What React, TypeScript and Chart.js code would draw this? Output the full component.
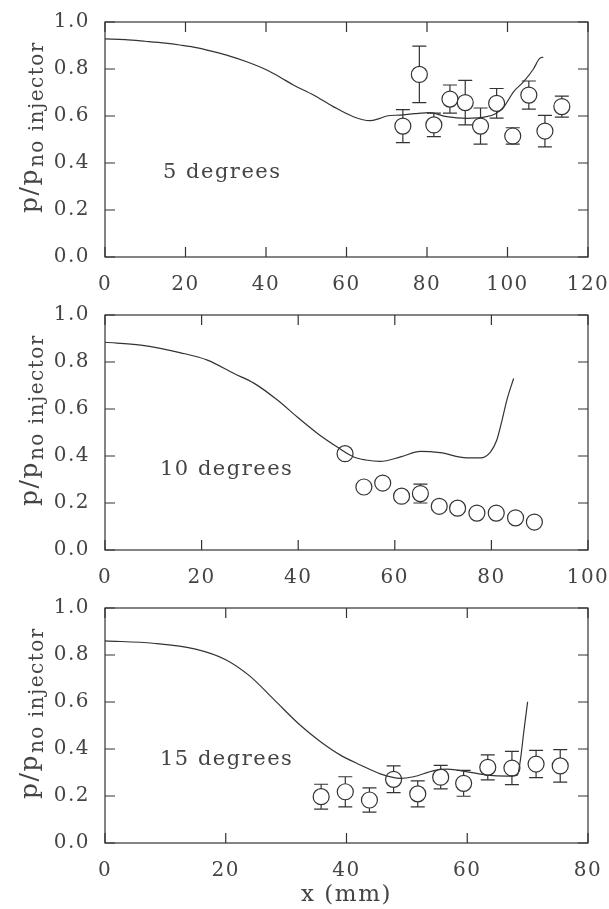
import React, { useEffect, useRef } from 'react';
import { Chart, registerables } from 'chart.js';

Chart.register(...registerables);

const FONT_FAMILY = '"DejaVu Serif", "Liberation Serif", serif';
const INK = '#333333';
const TEXT = '#444444';

const yAxisTitleMain = 'p/p';
const yAxisTitleSub = 'no injector';
const xAxisTitle = 'x (mm)';
const xStep = 20;
const yStep = 0.2;

// Panel 1: 5 degrees
const p1Label = '5 degrees';
const p1XMax = 120;
const p1CurveX = [0, 5, 10, 15, 18.6, 23, 26.9, 31, 35.2, 40.2, 43.5, 46.8, 51.8, 56.7, 61.7, 65.8, 68.3, 70, 73.3, 77, 80.7, 84.9, 89.9, 94.8, 97, 99, 101.5, 104, 106.4, 108, 108.9];
const p1CurveY = [0.928, 0.925, 0.918, 0.91, 0.902, 0.89, 0.874, 0.855, 0.831, 0.796, 0.765, 0.732, 0.689, 0.64, 0.597, 0.58, 0.59, 0.6, 0.604, 0.61, 0.614, 0.597, 0.59, 0.597, 0.61, 0.637, 0.703, 0.746, 0.799, 0.845, 0.85];
const p1DataX = [74.0, 78.1, 81.7, 85.7, 89.5, 93.3, 97.3, 101.3, 105.3, 109.3, 113.5];
const p1DataY = [0.557, 0.777, 0.562, 0.672, 0.657, 0.557, 0.654, 0.515, 0.689, 0.536, 0.64];
const p1DataErr = [0.07, 0.12, 0.05, 0.06, 0.095, 0.077, 0.063, 0.035, 0.06, 0.067, 0.045];

// Panel 2: 10 degrees
const p2Label = '10 degrees';
const p2XMax = 100;
const p2CurveX = [0, 7.4, 15.7, 21.2, 26.7, 30.9, 35.7, 39.8, 44, 48.1, 51.5, 54, 57, 61.2, 65.3, 69.4, 74.9, 77.7, 79.8, 81.1, 82.2, 83.2, 84.6];
const p2CurveY = [0.884, 0.872, 0.839, 0.808, 0.751, 0.709, 0.638, 0.566, 0.496, 0.438, 0.396, 0.383, 0.377, 0.396, 0.42, 0.414, 0.392, 0.392, 0.417, 0.467, 0.552, 0.638, 0.73];
const p2DataX = [49.7, 53.6, 57.5, 61.4, 65.3, 69.2, 73.0, 77.0, 81.0, 85.0, 88.9];
const p2DataY = [0.41, 0.268, 0.285, 0.229, 0.24, 0.186, 0.178, 0.157, 0.157, 0.137, 0.119];
const p2DataErr = [0, 0, 0, 0, 0.04, 0, 0, 0, 0, 0, 0];

// Panel 3: 15 degrees
const p3Label = '15 degrees';
const p3XMax = 80;
const p3CurveX = [0, 8, 15, 20, 24, 28, 32.3, 35.7, 39, 42.3, 45.6, 48.9, 51.1, 54.5, 56.7, 60, 63.3, 66.6, 68.3, 68.8, 69.4, 70];
const p3CurveY = [0.86, 0.85, 0.825, 0.78, 0.71, 0.61, 0.502, 0.431, 0.374, 0.332, 0.294, 0.275, 0.282, 0.308, 0.314, 0.303, 0.289, 0.285, 0.289, 0.353, 0.481, 0.601];
const p3DataX = [35.8, 39.8, 43.8, 47.8, 51.8, 55.6, 59.4, 63.4, 67.4, 71.4, 75.4];
const p3DataY = [0.197, 0.218, 0.183, 0.271, 0.209, 0.28, 0.254, 0.322, 0.319, 0.336, 0.328];
const p3DataErr = [0.053, 0.064, 0.052, 0.057, 0.055, 0.05, 0.055, 0.053, 0.071, 0.058, 0.069];

type Panel = {
  label: string; xMax: number; cx: number[]; cy: number[];
  dx: number[]; dy: number[]; de: number[];
  top: number; height: number; labelX: number; labelY: number; showTitle: boolean;
};

const panels: Panel[] = [
  { label: p1Label, xMax: p1XMax, cx: p1CurveX, cy: p1CurveY, dx: p1DataX, dy: p1DataY, de: p1DataErr, top: 0, height: 293, labelX: 163, labelY: 173, showTitle: false },
  { label: p2Label, xMax: p2XMax, cx: p2CurveX, cy: p2CurveY, dx: p2DataX, dy: p2DataY, de: p2DataErr, top: 293, height: 293, labelX: 160, labelY: 177, showTitle: false },
  { label: p3Label, xMax: p3XMax, cx: p3CurveX, cy: p3CurveY, dx: p3DataX, dy: p3DataY, de: p3DataErr, top: 586, height: 323, labelX: 160, labelY: 174, showTitle: true },
];

const PLOT_LEFT = 105;
const PLOT_TOP = 22;
const PLOT_BOTTOM = 257;
const PLOT_RIGHT_PAD = 21;
const TICK_LEN = 10;
const POINT_R = 8;
const CAP = 7;

function ChartPanel({ p }: { p: Panel }) {
  const ref = useRef<HTMLCanvasElement | null>(null);
  useEffect(() => {
    if (!ref.current) return;
    const decor = {
      id: 'decor',
      beforeDraw(chart: any) {
        chart.ctx.letterSpacing = '1.5px';
      },
      afterDatasetsDraw(chart: any) {
        const { ctx, scales } = chart;
        const xs = scales.x, ys = scales.y;
        ctx.save();
        ctx.strokeStyle = INK;
        ctx.lineWidth = 1.2;
        p.dx.forEach((xv, i) => {
          const e = p.de[i];
          if (!e) return;
          const px = xs.getPixelForValue(xv);
          const cy = ys.getPixelForValue(p.dy[i]);
          const t = ys.getPixelForValue(p.dy[i] + e);
          const b = ys.getPixelForValue(p.dy[i] - e);
          ctx.beginPath();
          if (t < cy - POINT_R) { ctx.moveTo(px, cy - POINT_R); ctx.lineTo(px, t); }
          if (b > cy + POINT_R) { ctx.moveTo(px, cy + POINT_R); ctx.lineTo(px, b); }
          ctx.moveTo(px - CAP, t); ctx.lineTo(px + CAP, t);
          ctx.moveTo(px - CAP, b); ctx.lineTo(px + CAP, b);
          ctx.stroke();
        });
        ctx.restore();
      },
      afterDraw(chart: any) {
        const { ctx, chartArea: a, scales } = chart;
        const xs = scales.x, ys = scales.y;
        ctx.save();
        ctx.strokeStyle = INK;
        ctx.lineWidth = 1.2;
        ctx.strokeRect(a.left, a.top, a.right - a.left, a.bottom - a.top);
        ctx.beginPath();
        xs.ticks.forEach((t: any) => {
          const px = xs.getPixelForValue(t.value);
          ctx.moveTo(px, a.bottom); ctx.lineTo(px, a.bottom - TICK_LEN);
          ctx.moveTo(px, a.top); ctx.lineTo(px, a.top + TICK_LEN);
        });
        ys.ticks.forEach((t: any) => {
          const py = ys.getPixelForValue(t.value);
          ctx.moveTo(a.left, py); ctx.lineTo(a.left + TICK_LEN, py);
          ctx.moveTo(a.right, py); ctx.lineTo(a.right - TICK_LEN, py);
        });
        ctx.stroke();

        ctx.fillStyle = TEXT;
        ctx.font = `21px ${FONT_FAMILY}`;
        ctx.textAlign = 'left';
        ctx.textBaseline = 'middle';
        ctx.fillText(p.label, p.labelX, p.labelY);

        ctx.translate(37, a.top + 191);
        ctx.rotate(-Math.PI / 2);
        ctx.textBaseline = 'alphabetic';
        ctx.font = `25px ${FONT_FAMILY}`;
        ctx.fillText(yAxisTitleMain, 0, 0);
        const w = ctx.measureText(yAxisTitleMain).width;
        ctx.font = `20px ${FONT_FAMILY}`;
        ctx.fillText(yAxisTitleSub, w + 1, 6);
        ctx.restore();
      },
    };
    const H = p.height;
    const chart = new Chart(ref.current, {
      type: 'scatter',
      data: {
        datasets: [
          {
            type: 'line',
            data: p.cx.map((x, i) => ({ x, y: p.cy[i] })),
            borderColor: INK,
            borderWidth: 1.2,
            pointRadius: 0,
            fill: false,
            cubicInterpolationMode: 'monotone',
          } as any,
          {
            type: 'scatter',
            data: p.dx.map((x, i) => ({ x, y: p.dy[i] })),
            pointRadius: POINT_R,
            pointHoverRadius: POINT_R,
            borderColor: INK,
            borderWidth: 1.2,
            backgroundColor: 'rgba(0,0,0,0)',
          } as any,
        ],
      },
      options: {
        responsive: false,
        animation: false,
        devicePixelRatio: 1,
        events: [],
        layout: { padding: { top: PLOT_TOP, right: PLOT_RIGHT_PAD, left: 0, bottom: 0 } },
        plugins: { legend: { display: false }, tooltip: { enabled: false } },
        scales: {
          x: {
            type: 'linear',
            min: 0,
            max: p.xMax,
            grid: { display: false, drawTicks: false },
            border: { display: false },
            ticks: {
              stepSize: xStep,
              color: TEXT,
              font: { family: FONT_FAMILY, size: 20 },
              padding: 16,
              maxRotation: 0,
              autoSkip: false,
            },
            title: {
              display: p.showTitle,
              text: xAxisTitle,
              color: TEXT,
              font: { family: FONT_FAMILY, size: 23 },
              padding: { top: 0, bottom: 0 },
            },
            afterFit: (s: any) => {
              s.height = H - PLOT_BOTTOM;
              s.paddingLeft = 0;
              s.paddingRight = 0;
            },
          },
          y: {
            type: 'linear',
            min: 0,
            max: 1,
            grid: { display: false, drawTicks: false },
            border: { display: false },
            ticks: {
              stepSize: yStep,
              color: TEXT,
              font: { family: FONT_FAMILY, size: 20 },
              padding: 15,
              callback: (v: any) => Number(v).toFixed(1),
            },
            afterFit: (s: any) => {
              s.width = PLOT_LEFT;
              s.paddingTop = 0;
              s.paddingBottom = 0;
            },
          },
        },
      } as any,
      plugins: [decor as any],
    });
    return () => chart.destroy();
  }, [p]);
  return (
    <canvas
      ref={ref}
      width={609}
      height={p.height}
      style={{ position: 'absolute', left: 0, top: p.top, width: 609, height: p.height }}
    />
  );
}

export default function App() {
  return (
    <div style={{ position: 'absolute', left: 0, top: 0, width: 609, height: 909, background: '#fff' }}>
      {panels.map((p, i) => (
        <ChartPanel key={i} p={p} />
      ))}
    </div>
  );
}
